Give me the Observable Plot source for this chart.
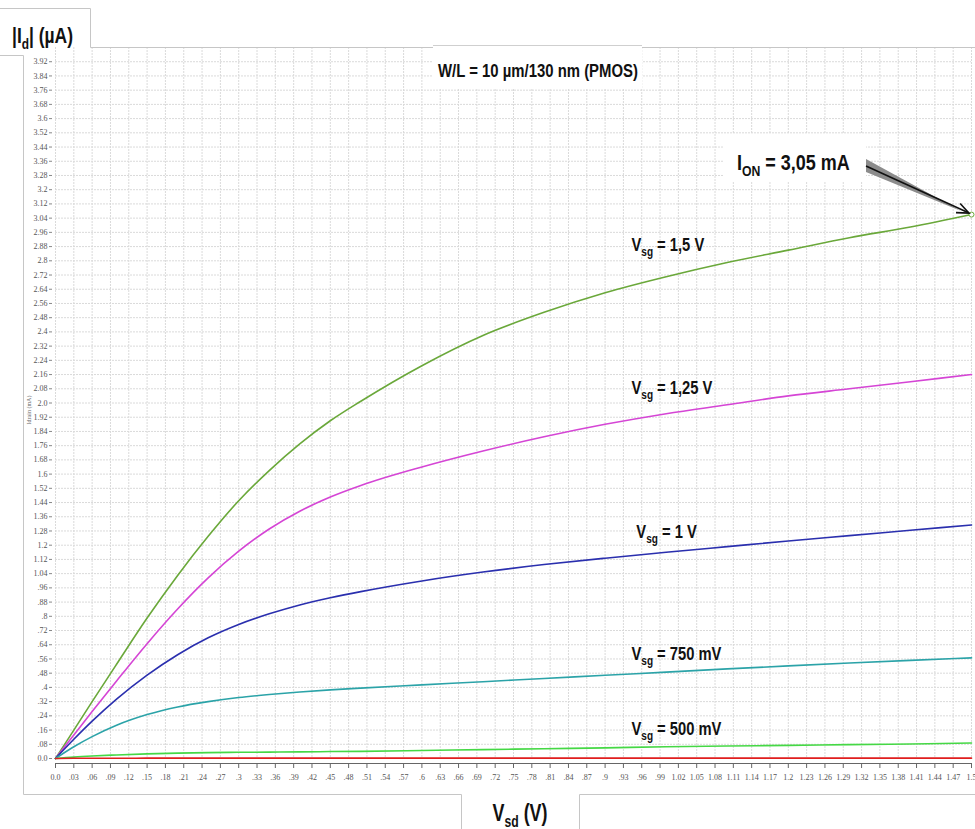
<!DOCTYPE html>
<html><head><meta charset="utf-8">
<script src="https://cdn.jsdelivr.net/npm/d3@7"></script>
<script src="https://cdn.jsdelivr.net/npm/@observablehq/plot@0.6"></script>
<style>
body{margin:0;background:#fff;}
#chart svg{display:block;}
</style></head><body><div id="chart"></div>
<script>
// ---- data ----
const vsd = [0, 0.03, 0.06, 0.1, 0.15, 0.2, 0.25, 0.3, 0.35, 0.4, 0.45, 0.5, 0.6, 0.7, 0.8, 0.9, 1.0, 1.1, 1.2, 1.3, 1.4, 1.5];
const id_1500 = [0, 0.16, 0.32, 0.53, 0.79, 1.03, 1.25, 1.45, 1.62, 1.77, 1.90, 2.01, 2.21, 2.38, 2.51, 2.62, 2.71, 2.79, 2.86, 2.93, 2.99, 3.06];
const id_1250 = [0, 0.132, 0.264, 0.436, 0.646, 0.841, 1.016, 1.166, 1.291, 1.391, 1.471, 1.536, 1.64, 1.73, 1.81, 1.88, 1.94, 1.99, 2.04, 2.08, 2.12, 2.16];
const id_1000 = [0, 0.108, 0.21, 0.334, 0.469, 0.584, 0.679, 0.754, 0.814, 0.864, 0.904, 0.939, 0.999, 1.049, 1.091, 1.127, 1.16, 1.192, 1.224, 1.254, 1.284, 1.314];
const id_750 = [0, 0.066, 0.123, 0.187, 0.247, 0.29, 0.32, 0.343, 0.36, 0.374, 0.386, 0.396, 0.414, 0.432, 0.45, 0.468, 0.486, 0.504, 0.521, 0.537, 0.552, 0.566];
const id_500 = [0, 0.008, 0.014, 0.02, 0.026, 0.03, 0.033, 0.035, 0.036, 0.037, 0.039, 0.04, 0.045, 0.05, 0.055, 0.06, 0.066, 0.07, 0.074, 0.078, 0.082, 0.087];
const id_250 = [0, 0.001, 0.001, 0.001, 0.002, 0.002, 0.002, 0.002, 0.002, 0.002, 0.002, 0.002, 0.002, 0.002, 0.002, 0.002, 0.002, 0.002, 0.002, 0.002, 0.002, 0.002];
const seriesNames = ["1,5 V", "1,25 V", "1 V", "750 mV", "500 mV", "250 mV"];
const seriesValues = [id_1500, id_1250, id_1000, id_750, id_500, id_250];
const labeledSeries = ["1,5 V", "1,25 V", "1 V", "750 mV", "500 mV"];
const ionLabel = "3,05 mA";
const titleText = "W/L = 10 µm/130 nm (PMOS)";

const xTicks = [0, 0.03, 0.06, 0.09, 0.12, 0.15, 0.18, 0.21, 0.24, 0.27, 0.3, 0.33, 0.36, 0.39, 0.42, 0.45, 0.48, 0.51, 0.54, 0.57, 0.6, 0.63, 0.66, 0.69, 0.72, 0.75, 0.78, 0.81, 0.84, 0.87, 0.9, 0.93, 0.96, 0.99, 1.02, 1.05, 1.08, 1.11, 1.14, 1.17, 1.2, 1.23, 1.26, 1.29, 1.32, 1.35, 1.38, 1.41, 1.44, 1.47, 1.5];
const xTickLabels = ["0.0", ".03", ".06", ".09", ".12", ".15", ".18", ".21", ".24", ".27", ".3", ".33", ".36", ".39", ".42", ".45", ".48", ".51", ".54", ".57", ".6", ".63", ".66", ".69", ".72", ".75", ".78", ".81", ".84", ".87", ".9", ".93", ".96", ".99", "1.02", "1.05", "1.08", "1.11", "1.14", "1.17", "1.2", "1.23", "1.26", "1.29", "1.32", "1.35", "1.38", "1.41", "1.44", "1.47", "1.5"];
const yTicks = [0, 0.08, 0.16, 0.24, 0.32, 0.4, 0.48, 0.56, 0.64, 0.72, 0.8, 0.88, 0.96, 1.04, 1.12, 1.2, 1.28, 1.36, 1.44, 1.52, 1.6, 1.68, 1.76, 1.84, 1.92, 2.0, 2.08, 2.16, 2.24, 2.32, 2.4, 2.48, 2.56, 2.64, 2.72, 2.8, 2.88, 2.96, 3.04, 3.12, 3.2, 3.28, 3.36, 3.44, 3.52, 3.6, 3.68, 3.76, 3.84, 3.92];
const yTickLabels = ["0.0", ".08", ".16", ".24", ".32", ".4", ".48", ".56", ".64", ".72", ".8", ".88", ".96", "1.04", "1.12", "1.2", "1.28", "1.36", "1.44", "1.52", "1.6", "1.68", "1.76", "1.84", "1.92", "2.0", "2.08", "2.16", "2.24", "2.32", "2.4", "2.48", "2.56", "2.64", "2.72", "2.8", "2.88", "2.96", "3.04", "3.12", "3.2", "3.28", "3.36", "3.44", "3.52", "3.6", "3.68", "3.76", "3.84", "3.92"];

// ---- styles ----
const seriesColors = ["#6aa83a", "#d545d5", "#2a2fae", "#2ba3a8", "#45d845", "#e01e1e"];
const BOLD = "'Liberation Sans',Arial,sans-serif";

const rows = seriesNames.flatMap((s, k) => vsd.map((v, i) => ({vsd: v, id: seriesValues[k][i], series: s})));
const ion = {vsd: vsd[vsd.length - 1], id: id_1500[id_1500.length - 1]};
const xMap = new Map(xTicks.map((v, i) => [v, xTickLabels[i]]));
const yMap = new Map(yTicks.map((v, i) => [v, yTickLabels[i]]));

const W = 975, H = 829;
const chart = Plot.plot({
  width: W, height: H,
  marginLeft: 55, marginRight: 4, marginTop: 47, marginBottom: 71,
  style: {fontFamily: "'Liberation Serif',serif", fontSize: "8px", background: "#fff", color: "#555", overflow: "visible"},
  x: {domain: [0, 1.5], label: null},
  y: {domain: [0, 4.0], label: null},
  color: {domain: seriesNames, range: seriesColors},
  marks: [
    Plot.gridX(xTicks, {stroke: "#dadada", strokeOpacity: 1, strokeDasharray: "2,1"}),
    Plot.gridY(yTicks, {stroke: "#dadada", strokeOpacity: 1, strokeDasharray: "2,1"}),
    Plot.ruleY([0], {dy: 5, stroke: "#666", strokeWidth: 1.2}),
    Plot.line(rows, {x: "vsd", y: "id", z: "series", stroke: "series", strokeWidth: 1.6, curve: "monotone-x"}),
    Plot.dot([ion], {x: "vsd", y: "id", r: 2.5, stroke: seriesColors[0], fill: "#fff", strokeWidth: 1}),
    Plot.axisX(xTicks, {tickFormat: d => xMap.get(d), tickSize: 5, dy: 5, tickPadding: 6, stroke: "#666", fill: "#555", label: null}),
    Plot.axisY(yTicks, {tickFormat: d => yMap.get(d), tickSize: 3, dx: -3, tickPadding: 2, stroke: "#888", fill: "#555", label: null})
  ]
});
document.getElementById("chart").appendChild(chart);

const x = chart.scale("x"), y = chart.scale("y");
const svg = d3.select(chart);
const g = svg.append("g");

// frame lines
g.append("path").attr("d", "M0,8.5 H90.5 V47.5 H975 M0,55.5 H23.5 V794.5 H461.5 V829 M579.5,829 V794.5 H975")
  .attr("fill", "none").attr("stroke", "#c6c6c6").attr("stroke-width", 1);

// title box
g.append("rect").attr("x", 433).attr("y", 45).attr("width", 209).attr("height", 44).attr("fill", "#fff");
g.append("path").attr("d", "M433,45.5 H642").attr("stroke", "#cfcfcf");

// bold text with subscripts; horizontally condensed (scale) to a target width or factor
function richText(px, py, parts, size, opts = {}) {
  const grp = g.append("g");
  const t = grp.append("text").attr("x", 0).attr("y", 0)
    .attr("font-family", BOLD).attr("font-weight", "bold").attr("font-size", size)
    .attr("fill", "#111").attr("text-anchor", opts.anchor || "start");
  let shifted = 0;
  parts.forEach(([s, sub]) => {
    const ts = t.append("tspan").text(s);
    const want = sub ? Math.round(size * 0.28) : 0;
    if (want !== shifted) { ts.attr("dy", want - shifted); shifted = want; }
    if (sub) ts.attr("font-size", size * 0.68);
  });
  let sx = opts.scale || 0.82;
  if (opts.width) { const w = t.node().getBBox().width; if (w > 0) sx = opts.width / w; }
  grp.attr("transform", `translate(${px},${py}) scale(${sx},1)`);
  return grp;
}

richText(12, 43, [["|I", 0], ["d", 1], ["| (µA)", 0]], 22, {width: 61});
richText(520, 821, [["V", 0], ["sd", 1], [" (V)", 0]], 23, {width: 55, anchor: "middle"});
richText(438, 77, [[titleText, 0]], 18, {width: 200});

// small rotated axis caption
g.append("text").attr("transform", "translate(31,410) rotate(-90)").attr("text-anchor", "middle")
  .attr("font-family", "'Liberation Serif',serif").attr("font-size", 6).attr("fill", "#666").text("Idrain (mA)");

// curve labels (data coordinates)
const labelPos = [[0.944, 2.85], [0.944, 2.05], [0.952, 1.24], [0.944, 0.55], [0.944, 0.13]];
labeledSeries.forEach((s, i) => {
  richText(x.apply(labelPos[i][0]), y.apply(labelPos[i][1]), [["V", 0], ["sg", 1], [" = " + s, 0]], 18, {scale: 0.82});
});

// I_ON annotation
g.append("rect").attr("x", 723).attr("y", 134).attr("width", 143).attr("height", 48).attr("fill", "#fff");
richText(737, 170, [["I", 0], ["ON", 1], [" = " + ionLabel, 0]], 22, {width: 113});
const tx = x.apply(ion.vsd) - 2, ty = y.apply(ion.id) - 1;
const sx0 = 866, sy0 = 166;
g.append("path").attr("d", `M${sx0},${sy0 - 7} L${sx0},${sy0 + 6} L${tx - 8},${ty - 2} Z`).attr("fill", "#8c8c8c");
g.append("path").attr("d", `M${sx0},${sy0} L${tx},${ty}`).attr("stroke", "#111").attr("stroke-width", 1.6);
const dxv = tx - sx0, dyv = ty - sy0, L = Math.hypot(dxv, dyv), ux = dxv / L, uy = dyv / L;
const bx = tx - 12 * ux, by = ty - 12 * uy, pxv = -uy, pyv = ux;
g.append("path").attr("d", `M${bx + 5 * pxv},${by + 5 * pyv} L${tx},${ty} L${bx - 5 * pxv},${by - 5 * pyv}`)
  .attr("fill", "none").attr("stroke", "#111").attr("stroke-width", 1.6);
</script></body></html>
